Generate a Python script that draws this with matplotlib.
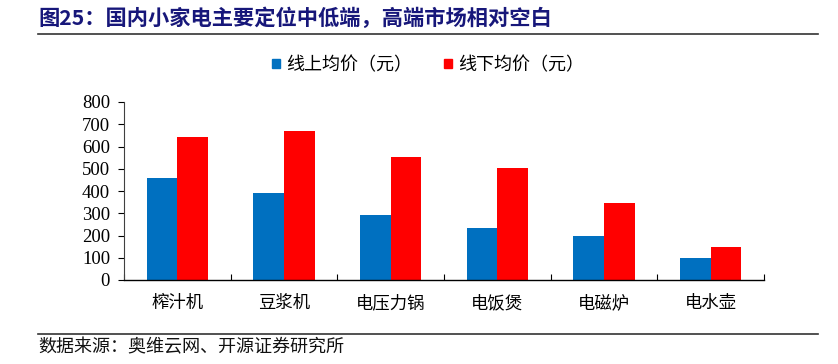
import matplotlib
matplotlib.use("Agg")
import matplotlib.pyplot as plt
import numpy as np
from matplotlib.patches import Rectangle
from matplotlib.lines import Line2D

plt.rcParams['font.family'] = ['Noto Sans CJK SC', 'DejaVu Sans']

categories = ['榨汁机', '豆浆机', '电压力锅', '电饭煲', '电磁炉', '电水壶']
online = [460, 392, 290, 234, 199, 97]
offline = [643, 670, 553, 505, 347, 149]
series_names = ['线上均价（元）', '线下均价（元）']
yticks = [0, 100, 200, 300, 400, 500, 600, 700, 800]

W, H = 838, 364
fig = plt.figure(figsize=(W / 100, H / 100), dpi=100)

ax = fig.add_axes([124 / W, (H - 280) / H, 640 / W, 178 / H])
x = np.arange(len(categories))
bw = 0.286
ax.bar(x - bw / 2, online, bw, color='#0070C0', label=series_names[0])
ax.bar(x + bw / 2, offline, bw, color='#FF0000', label=series_names[1])
ax.set_xlim(-0.5, len(categories) - 0.5)
ax.set_ylim(0, 800)
ax.set_yticks(yticks)
ax.set_yticklabels([str(v) for v in yticks], family='Liberation Serif', fontsize=13.5)
ax.set_xticks(x)
ax.set_xticklabels(categories, fontsize=12.5)
ax.tick_params(axis='x', length=0, pad=10)
ax.set_xticks(np.arange(len(categories) + 1) - 0.5, minor=True)
ax.tick_params(axis='x', which='minor', direction='in', length=4, width=0.8)
ax.tick_params(axis='y', direction='out', length=4, width=0.8, pad=6)
for s in ['top', 'right']:
    ax.spines[s].set_visible(False)
ax.spines['left'].set_color('#404040')
ax.spines['left'].set_linewidth(0.8)
ax.spines['bottom'].set_linewidth(1.0)

# legend
h1 = Rectangle((0, 0), 1, 1, color='#0070C0')
h2 = Rectangle((0, 0), 1, 1, color='#FF0000')
fig.legend([h1, h2], series_names, loc='center', bbox_to_anchor=(428 / W, 1 - 65 / H),
           ncol=2, frameon=False, fontsize=13, handlelength=0.45, handleheight=0.45,
           handletextpad=0.3, columnspacing=1.8)

# title
fig.text(38 / W, 1 - 18 / H, '图25：国内小家电主要定位中低端，高端市场相对空白',
         fontsize=15.3, fontweight='heavy', color='#17177a', va='center', ha='left')
fig.add_artist(Line2D([38 / W, 818 / W], [1 - 34 / H, 1 - 34 / H], color='#333333', lw=1.2))
fig.add_artist(Line2D([38 / W, 818 / W], [1 - 334 / H, 1 - 334 / H], color='#333333', lw=1.2))
fig.text(38 / W, 1 - 347 / H, '数据来源：奥维云网、开源证券研究所', fontsize=13,
         va='center', ha='left', color='#111111')

fig.savefig('out.png', dpi=100)
